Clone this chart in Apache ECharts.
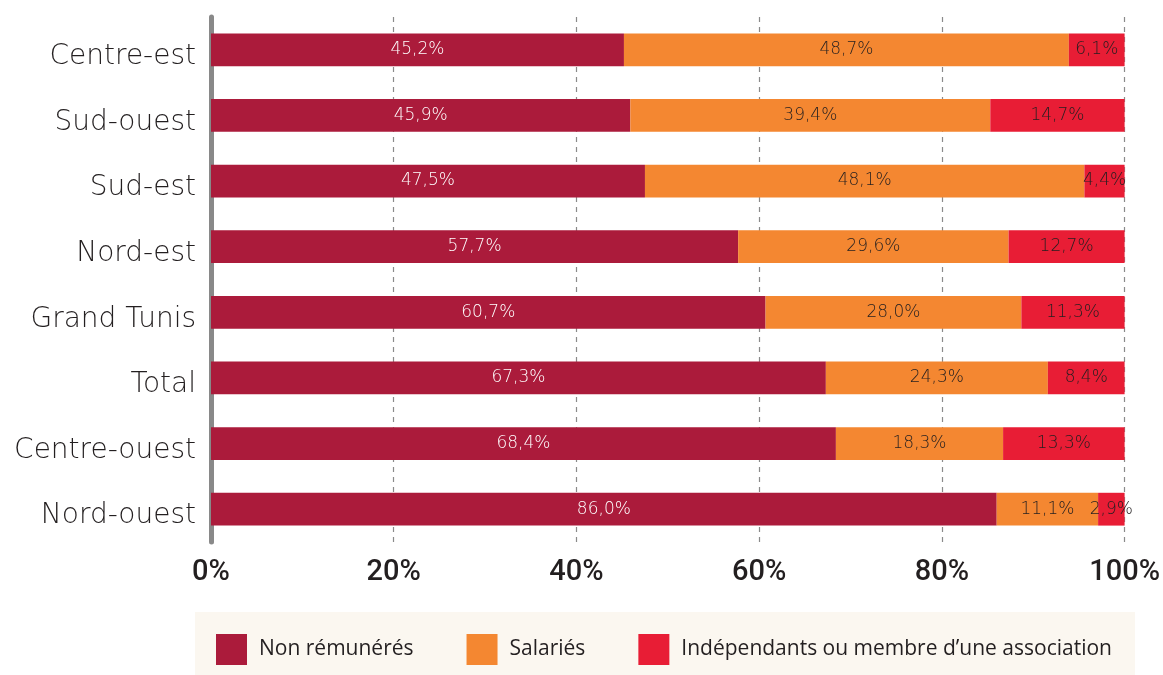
<!DOCTYPE html>
<html>
<head>
<meta charset="utf-8">
<script src="https://cdn.jsdelivr.net/npm/echarts@6/dist/echarts.min.js"></script>
<style>
  html, body { margin: 0; padding: 0; background: #fff; }
  #chart { width: 1163px; height: 675px; }
</style>
</head>
<body>
<div id="chart"></div>
<script>
// regions, top to bottom
const regions = ['Centre-est', 'Sud-ouest', 'Sud-est', 'Nord-est', 'Grand Tunis', 'Total', 'Centre-ouest', 'Nord-ouest'];
const nonRemuneres = [45.2, 45.9, 47.5, 57.7, 60.7, 67.3, 68.4, 86.0];
const salaries = [48.7, 39.4, 48.1, 29.6, 28.0, 24.3, 18.3, 11.1];
const independants = [6.1, 14.7, 4.4, 12.7, 11.3, 8.4, 13.3, 2.9];
const seriesNames = ['Non rémunérés', 'Salariés', 'Indépendants ou membre d\u2019une association'];
const colors = ['#AB1B3B', '#F48731', '#E81D35'];

const fmt = v => v.toFixed(1).replace('.', ',') + '%';

function bar(name, data, color, labelColor) {
    return {
        name: name,
        type: 'bar',
        stack: 'total',
        barWidth: '50%',
        data: data,
        itemStyle: { color: color },
        label: {
            show: true,
            position: 'inside',
            color: labelColor,
            fontFamily: 'DejaVu Sans',
            fontWeight: 200,
            fontSize: 17,
            formatter: p => fmt(p.value)
        }
    };
}

const chart = echarts.init(document.getElementById('chart'));
chart.setOption({
    animation: false,
    backgroundColor: '#fff',
    grid: { left: 211, right: 37, top: 17, bottom: 133, containLabel: false },
    graphic: [{
        type: 'rect',
        shape: { x: 195, y: 612, width: 940, height: 63 },
        style: { fill: '#FBF7F0' },
        z: -1
    }],
    legend: {
        left: 216,
        top: 634,
        padding: 0,
        itemWidth: 31,
        itemHeight: 31,
        itemGap: 53,
        icon: 'rect',
        textStyle: { fontFamily: 'Open Sans', fontSize: 21, color: '#231f20', padding: [0, 0, 0, 7] },
        data: seriesNames
    },
    xAxis: {
        type: 'value',
        min: 0,
        max: 100,
        interval: 20,
        axisLine: { show: false },
        axisTick: { show: false },
        axisLabel: {
            formatter: '{value}%',
            fontFamily: 'Roboto',
            fontWeight: 500,
            fontSize: 29,
            color: '#231f20',
            margin: 16
        },
        splitLine: { show: true, lineStyle: { type: [5, 5], color: '#8a8a8a', width: 1.2 } }
    },
    yAxis: {
        type: 'category',
        inverse: true,
        data: regions,
        offset: 3,
        axisLine: { show: true, lineStyle: { color: '#898989', width: 5 } },
        axisTick: { show: false },
        axisLabel: {
            margin: 12,
            formatter: v => '{r|' + v + '}',
            rich: {
                r: {
                    fontFamily: 'DejaVu Sans',
                    fontWeight: 200,
                    fontSize: 28,
                    color: '#231f20',
                    padding: [14, 0, 0, 0]
                }
            }
        }
    },
    series: [
        bar(seriesNames[0], nonRemuneres, colors[0], '#fff'),
        bar(seriesNames[1], salaries, colors[1], '#231f20'),
        bar(seriesNames[2], independants, colors[2], '#231f20')
    ]
});
</script>
</body>
</html>
